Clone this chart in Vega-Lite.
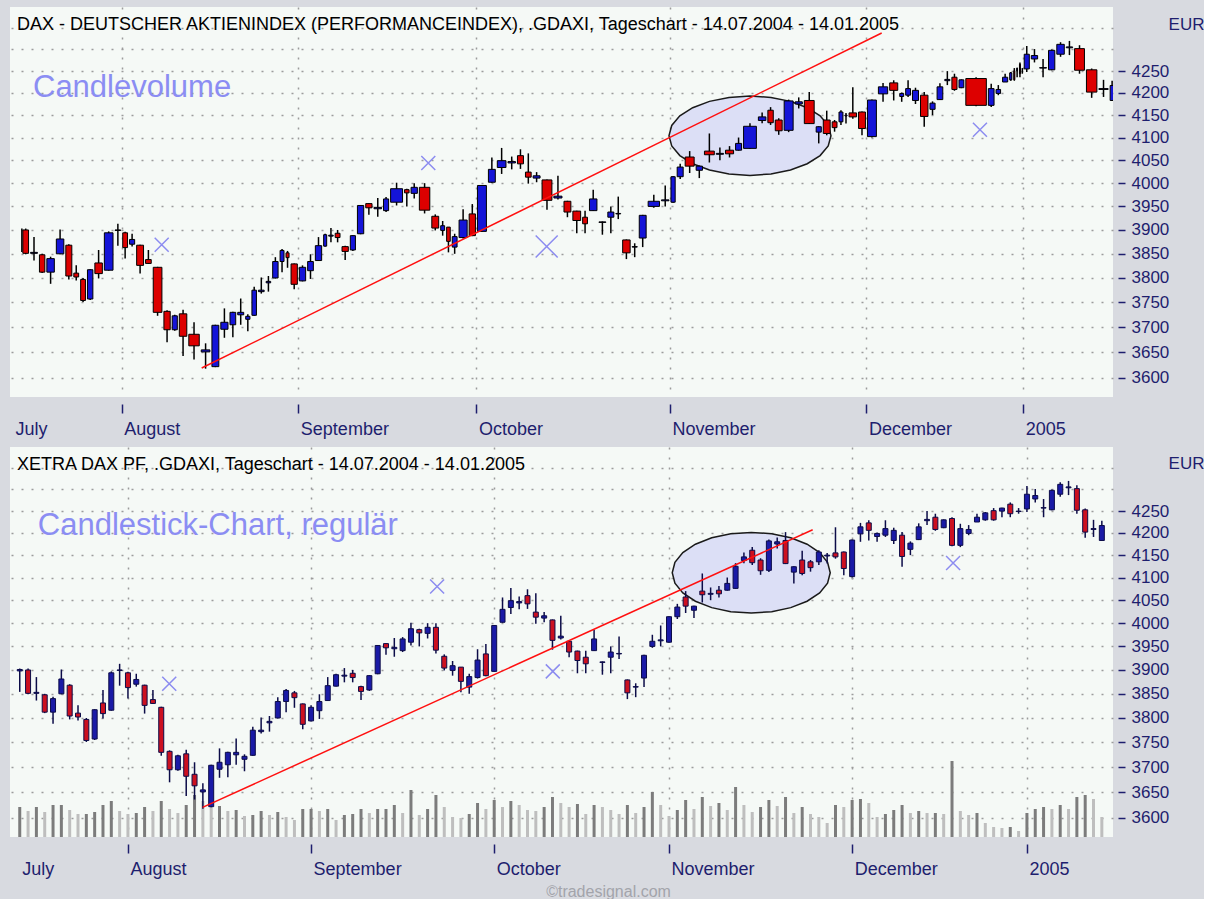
{
"$schema": "https://vega.github.io/schema/vega-lite/v6.json",
"background": "#d8dae0",
"padding": {"left": 10, "top": 7, "right": 0, "bottom": 0},
"autosize": {"type": "pad"},
"config": {
  "view": {"fill": "#f5f9f6", "stroke": null},
  "axis": {"domain": false, "labelFont": "Liberation Sans", "labelColor": "#1e1e6e", "tickColor": "#1e1e6e", "gridColor": "#9c9c9c", "gridDash": [2, 8], "gridWidth": 1.5, "titleFont": "Liberation Sans"}
},
"datasets": {"dax": [
{"i":0,"d":"2004-07-14","o":3898,"h":3903,"l":3854,"c":3901,"v":30},
{"i":1,"d":"2004-07-15","o":3900,"h":3903,"l":3849,"c":3851,"v":26},
{"i":2,"d":"2004-07-16","o":3851,"h":3885,"l":3836,"c":3853,"v":30},
{"i":3,"d":"2004-07-19","o":3848,"h":3850,"l":3810,"c":3812,"v":25},
{"i":4,"d":"2004-07-20","o":3812,"h":3844,"l":3788,"c":3840,"v":32},
{"i":5,"d":"2004-07-21","o":3850,"h":3901,"l":3849,"c":3881,"v":32},
{"i":6,"d":"2004-07-22","o":3868,"h":3870,"l":3797,"c":3804,"v":27},
{"i":7,"d":"2004-07-23","o":3810,"h":3826,"l":3795,"c":3802,"v":23},
{"i":8,"d":"2004-07-26","o":3797,"h":3800,"l":3751,"c":3754,"v":23},
{"i":9,"d":"2004-07-27","o":3757,"h":3818,"l":3755,"c":3817,"v":25},
{"i":10,"d":"2004-07-28","o":3831,"h":3858,"l":3799,"c":3809,"v":32},
{"i":11,"d":"2004-07-29","o":3816,"h":3897,"l":3815,"c":3894,"v":36},
{"i":12,"d":"2004-07-30","o":3899,"h":3913,"l":3867,"c":3900,"v":26},
{"i":13,"d":"2004-08-02","o":3894,"h":3896,"l":3840,"c":3863,"v":23},
{"i":14,"d":"2004-08-03","o":3870,"h":3892,"l":3865,"c":3880,"v":24},
{"i":15,"d":"2004-08-04","o":3868,"h":3869,"l":3809,"c":3826,"v":30},
{"i":16,"d":"2004-08-05","o":3838,"h":3858,"l":3829,"c":3830,"v":26},
{"i":17,"d":"2004-08-06","o":3822,"h":3823,"l":3723,"c":3730,"v":36},
{"i":18,"d":"2004-08-09","o":3732,"h":3734,"l":3670,"c":3695,"v":28},
{"i":19,"d":"2004-08-10","o":3695,"h":3725,"l":3693,"c":3723,"v":24},
{"i":20,"d":"2004-08-11","o":3727,"h":3735,"l":3643,"c":3682,"v":32},
{"i":21,"d":"2004-08-12","o":3686,"h":3710,"l":3636,"c":3663,"v":42},
{"i":22,"d":"2004-08-13","o":3651,"h":3668,"l":3618,"c":3655,"v":36},
{"i":23,"d":"2004-08-16","o":3622,"h":3705,"l":3621,"c":3704,"v":30},
{"i":24,"d":"2004-08-17","o":3696,"h":3738,"l":3679,"c":3710,"v":31},
{"i":25,"d":"2004-08-18","o":3705,"h":3731,"l":3680,"c":3730,"v":26},
{"i":26,"d":"2004-08-19","o":3725,"h":3758,"l":3705,"c":3730,"v":27},
{"i":27,"d":"2004-08-20","o":3716,"h":3726,"l":3692,"c":3722,"v":21},
{"i":28,"d":"2004-08-23","o":3724,"h":3782,"l":3723,"c":3775,"v":22},
{"i":29,"d":"2004-08-24","o":3772,"h":3801,"l":3768,"c":3775,"v":26},
{"i":30,"d":"2004-08-25","o":3790,"h":3804,"l":3772,"c":3793,"v":22},
{"i":31,"d":"2004-08-26","o":3800,"h":3843,"l":3799,"c":3834,"v":25},
{"i":32,"d":"2004-08-27","o":3834,"h":3860,"l":3812,"c":3857,"v":20},
{"i":33,"d":"2004-08-30","o":3852,"h":3856,"l":3821,"c":3842,"v":17},
{"i":34,"d":"2004-08-31","o":3829,"h":3830,"l":3777,"c":3787,"v":28},
{"i":35,"d":"2004-09-01","o":3794,"h":3826,"l":3793,"c":3822,"v":28},
{"i":36,"d":"2004-09-02","o":3815,"h":3849,"l":3798,"c":3834,"v":26},
{"i":37,"d":"2004-09-03","o":3836,"h":3885,"l":3835,"c":3867,"v":28},
{"i":38,"d":"2004-09-06","o":3866,"h":3892,"l":3865,"c":3890,"v":17},
{"i":39,"d":"2004-09-07","o":3887,"h":3904,"l":3874,"c":3889,"v":22},
{"i":40,"d":"2004-09-08","o":3893,"h":3900,"l":3874,"c":3884,"v":23},
{"i":41,"d":"2004-09-09","o":3865,"h":3867,"l":3837,"c":3855,"v":28},
{"i":42,"d":"2004-09-10","o":3858,"h":3889,"l":3856,"c":3888,"v":24},
{"i":43,"d":"2004-09-13","o":3892,"h":3953,"l":3891,"c":3952,"v":28},
{"i":44,"d":"2004-09-14","o":3956,"h":3957,"l":3932,"c":3947,"v":28},
{"i":45,"d":"2004-09-15","o":3945,"h":3968,"l":3928,"c":3948,"v":32},
{"i":46,"d":"2004-09-16","o":3941,"h":3970,"l":3938,"c":3966,"v":24},
{"i":47,"d":"2004-09-17","o":3959,"h":4001,"l":3952,"c":3988,"v":47},
{"i":48,"d":"2004-09-20","o":3986,"h":3988,"l":3950,"c":3979,"v":22},
{"i":49,"d":"2004-09-21","o":3978,"h":4000,"l":3967,"c":3991,"v":28},
{"i":50,"d":"2004-09-22","o":3991,"h":4000,"l":3935,"c":3942,"v":42},
{"i":51,"d":"2004-09-23","o":3929,"h":3933,"l":3899,"c":3904,"v":30},
{"i":52,"d":"2004-09-24","o":3899,"h":3919,"l":3888,"c":3909,"v":20},
{"i":53,"d":"2004-09-27","o":3906,"h":3906,"l":3853,"c":3876,"v":19},
{"i":54,"d":"2004-09-28","o":3864,"h":3892,"l":3850,"c":3886,"v":23},
{"i":55,"d":"2004-09-29","o":3884,"h":3944,"l":3882,"c":3921,"v":34},
{"i":56,"d":"2004-09-30","o":3934,"h":3955,"l":3887,"c":3888,"v":28},
{"i":57,"d":"2004-10-01","o":3897,"h":3996,"l":3896,"c":3995,"v":37},
{"i":58,"d":"2004-10-04","o":4002,"h":4056,"l":4001,"c":4030,"v":30},
{"i":59,"d":"2004-10-05","o":4034,"h":4077,"l":4020,"c":4049,"v":36},
{"i":60,"d":"2004-10-06","o":4044,"h":4058,"l":4030,"c":4047,"v":32},
{"i":61,"d":"2004-10-07","o":4060,"h":4074,"l":4031,"c":4042,"v":27},
{"i":62,"d":"2004-10-08","o":4024,"h":4065,"l":3999,"c":4013,"v":26},
{"i":63,"d":"2004-10-11","o":4011,"h":4024,"l":4002,"c":4016,"v":30},
{"i":64,"d":"2004-10-12","o":4007,"h":4008,"l":3943,"c":3963,"v":40},
{"i":65,"d":"2004-10-13","o":3968,"h":4016,"l":3965,"c":3972,"v":34},
{"i":66,"d":"2004-10-14","o":3961,"h":3962,"l":3927,"c":3938,"v":30},
{"i":67,"d":"2004-10-15","o":3940,"h":3941,"l":3893,"c":3920,"v":33},
{"i":68,"d":"2004-10-18","o":3927,"h":3941,"l":3893,"c":3913,"v":23},
{"i":69,"d":"2004-10-19","o":3941,"h":3986,"l":3940,"c":3966,"v":32},
{"i":70,"d":"2004-10-20","o":3916,"h":3918,"l":3890,"c":3917,"v":30},
{"i":71,"d":"2004-10-21","o":3927,"h":3950,"l":3893,"c":3938,"v":27},
{"i":72,"d":"2004-10-22","o":3934,"h":3971,"l":3923,"c":3935,"v":23},
{"i":73,"d":"2004-10-25","o":3879,"h":3880,"l":3839,"c":3852,"v":32},
{"i":74,"d":"2004-10-26","o":3864,"h":3872,"l":3843,"c":3865,"v":24},
{"i":75,"d":"2004-10-27","o":3883,"h":3932,"l":3864,"c":3931,"v":30},
{"i":76,"d":"2004-10-28","o":3950,"h":3975,"l":3947,"c":3961,"v":45},
{"i":77,"d":"2004-10-29","o":3962,"h":3995,"l":3950,"c":3964,"v":32},
{"i":78,"d":"2004-11-01","o":3959,"h":4015,"l":3958,"c":4014,"v":21},
{"i":79,"d":"2004-11-02","o":4014,"h":4042,"l":4009,"c":4035,"v":27},
{"i":80,"d":"2004-11-03","o":4057,"h":4070,"l":4022,"c":4037,"v":37},
{"i":81,"d":"2004-11-04","o":4028,"h":4038,"l":4011,"c":4037,"v":28},
{"i":82,"d":"2004-11-05","o":4070,"h":4109,"l":4045,"c":4062,"v":40},
{"i":83,"d":"2004-11-08","o":4063,"h":4078,"l":4050,"c":4065,"v":31},
{"i":84,"d":"2004-11-09","o":4072,"h":4081,"l":4056,"c":4064,"v":34},
{"i":85,"d":"2004-11-10","o":4072,"h":4100,"l":4071,"c":4087,"v":27},
{"i":86,"d":"2004-11-11","o":4076,"h":4132,"l":4075,"c":4125,"v":50},
{"i":87,"d":"2004-11-12","o":4138,"h":4156,"l":4132,"c":4146,"v":32},
{"i":88,"d":"2004-11-15","o":4161,"h":4168,"l":4128,"c":4133,"v":25},
{"i":89,"d":"2004-11-16","o":4139,"h":4143,"l":4106,"c":4115,"v":30},
{"i":90,"d":"2004-11-17","o":4116,"h":4185,"l":4112,"c":4182,"v":37},
{"i":91,"d":"2004-11-18","o":4175,"h":4190,"l":4165,"c":4180,"v":31},
{"i":92,"d":"2004-11-19","o":4183,"h":4202,"l":4130,"c":4131,"v":40},
{"i":93,"d":"2004-11-22","o":4112,"h":4125,"l":4087,"c":4124,"v":24},
{"i":94,"d":"2004-11-23","o":4139,"h":4160,"l":4105,"c":4109,"v":30},
{"i":95,"d":"2004-11-24","o":4135,"h":4139,"l":4113,"c":4122,"v":23},
{"i":96,"d":"2004-11-25","o":4135,"h":4161,"l":4128,"c":4157,"v":20},
{"i":97,"d":"2004-11-26","o":4148,"h":4155,"l":4131,"c":4150,"v":14},
{"i":98,"d":"2004-11-29","o":4155,"h":4213,"l":4142,"c":4146,"v":32},
{"i":99,"d":"2004-11-30","o":4157,"h":4158,"l":4105,"c":4120,"v":30},
{"i":100,"d":"2004-12-01","o":4102,"h":4185,"l":4100,"c":4184,"v":37},
{"i":101,"d":"2004-12-02","o":4198,"h":4223,"l":4180,"c":4214,"v":38},
{"i":102,"d":"2004-12-03","o":4223,"h":4229,"l":4183,"c":4206,"v":34},
{"i":103,"d":"2004-12-06","o":4192,"h":4201,"l":4180,"c":4199,"v":20},
{"i":104,"d":"2004-12-07","o":4195,"h":4229,"l":4191,"c":4210,"v":23},
{"i":105,"d":"2004-12-08","o":4183,"h":4212,"l":4175,"c":4206,"v":27},
{"i":106,"d":"2004-12-09","o":4195,"h":4202,"l":4124,"c":4147,"v":32},
{"i":107,"d":"2004-12-10","o":4163,"h":4181,"l":4150,"c":4177,"v":24},
{"i":108,"d":"2004-12-13","o":4185,"h":4222,"l":4184,"c":4214,"v":26},
{"i":109,"d":"2004-12-14","o":4228,"h":4250,"l":4218,"c":4231,"v":24},
{"i":110,"d":"2004-12-15","o":4236,"h":4244,"l":4205,"c":4208,"v":24},
{"i":111,"d":"2004-12-16","o":4212,"h":4231,"l":4211,"c":4230,"v":23},
{"i":112,"d":"2004-12-17","o":4233,"h":4236,"l":4170,"c":4172,"v":76},
{"i":113,"d":"2004-12-20","o":4172,"h":4221,"l":4168,"c":4210,"v":26},
{"i":114,"d":"2004-12-21","o":4199,"h":4218,"l":4195,"c":4208,"v":22},
{"i":115,"d":"2004-12-22","o":4225,"h":4244,"l":4225,"c":4236,"v":24},
{"i":116,"d":"2004-12-23","o":4230,"h":4248,"l":4228,"c":4246,"v":14},
{"i":117,"d":"2004-12-27","o":4251,"h":4257,"l":4228,"c":4230,"v":10},
{"i":118,"d":"2004-12-28","o":4250,"h":4258,"l":4236,"c":4257,"v":9},
{"i":119,"d":"2004-12-29","o":4266,"h":4270,"l":4236,"c":4244,"v":10},
{"i":120,"d":"2004-12-30","o":4249,"h":4257,"l":4244,"c":4250,"v":6},
{"i":121,"d":"2005-01-03","o":4255,"h":4308,"l":4248,"c":4289,"v":24},
{"i":122,"d":"2005-01-04","o":4278,"h":4301,"l":4270,"c":4286,"v":28},
{"i":123,"d":"2005-01-05","o":4257,"h":4278,"l":4236,"c":4258,"v":30},
{"i":124,"d":"2005-01-06","o":4253,"h":4300,"l":4252,"c":4298,"v":28},
{"i":125,"d":"2005-01-07","o":4289,"h":4317,"l":4283,"c":4312,"v":32},
{"i":126,"d":"2005-01-10","o":4304,"h":4320,"l":4287,"c":4306,"v":28},
{"i":127,"d":"2005-01-11","o":4302,"h":4310,"l":4244,"c":4252,"v":40},
{"i":128,"d":"2005-01-12","o":4253,"h":4256,"l":4189,"c":4202,"v":42},
{"i":129,"d":"2005-01-13","o":4208,"h":4230,"l":4191,"c":4210,"v":38},
{"i":130,"d":"2005-01-14","o":4183,"h":4228,"l":4182,"c":4217,"v":20}
]},
"bounds": "flush",
"spacing": 50,
"vconcat": [
{
  "width": 1103, "height": 390,
  "title": {"text": "DAX - DEUTSCHER AKTIENINDEX (PERFORMANCEINDEX), .GDAXI, Tageschart - 14.07.2004 - 14.01.2005", "anchor": "start", "frame": "group", "offset": -41, "baseline": "alphabetic", "dx": 7, "fontSize": 18, "font": "Liberation Sans", "fontWeight": "normal", "color": "#000000"},
  "layer": [
    {"data": {"values": [{"x": 2487, "y": 4104}]},
     "mark": {"type": "point", "shape": "M1,0L0.966,0.127L0.866,0.245L0.707,0.346L0.5,0.424L0.259,0.473L0,0.49L-0.259,0.473L-0.5,0.424L-0.707,0.346L-0.866,0.245L-0.966,0.127L-1,0L-0.966,-0.127L-0.866,-0.245L-0.707,-0.346L-0.5,-0.424L-0.259,-0.473L0,-0.49L0.259,-0.473L0.5,-0.424L0.707,-0.346L0.866,-0.245L0.966,-0.127Z", "size": 26244, "filled": true, "fill": "#dcdff6", "stroke": "#1a1a1a", "strokeWidth": 1.5, "opacity": 1},
     "encoding": {"x": {"field": "x", "type": "quantitative", "scale": {"domain": [-10, 3712]}}, "y": {"field": "y", "type": "quantitative", "scale": {"type": "log", "domain": [3563, 4400]}}}},
    {"data": {"values": [{"x": 501.9, "y": 3869}, {"x": 1401.5, "y": 4043.9}, {"x": 3263, "y": 4117.4}]},
     "mark": {"type": "point", "shape": "M-1,-1L1,1M1,-1L-1,1", "size": 196, "filled": false, "stroke": "#8c8cf0", "strokeWidth": 1.5, "opacity": 1},
     "encoding": {"x": {"field": "x", "type": "quantitative", "scale": {"domain": [-10, 3712]}}, "y": {"field": "y", "type": "quantitative", "scale": {"type": "log", "domain": [3563, 4400]}}}},
    {"data": {"values": [{"x": 1801, "y": 3865.4}]},
     "mark": {"type": "point", "shape": "M-1,-1L1,1M1,-1L-1,1", "size": 484, "filled": false, "stroke": "#8c8cf0", "strokeWidth": 1.5, "opacity": 1},
     "encoding": {"x": {"field": "x", "type": "quantitative", "scale": {"domain": [-10, 3712]}}, "y": {"field": "y", "type": "quantitative", "scale": {"type": "log", "domain": [3563, 4400]}}}},
    {"data": {"values": [{"x": 67.6, "y": 4191.6, "t": "Candlevolume"}]},
     "mark": {"type": "text", "align": "left", "baseline": "alphabetic", "fontSize": 31, "font": "Liberation Sans", "color": "#8b8df3"},
     "encoding": {"x": {"field": "x", "type": "quantitative", "scale": {"domain": [-10, 3712]}}, "y": {"field": "y", "type": "quantitative", "scale": {"type": "log", "domain": [3563, 4400]}}, "text": {"field": "t"}}},
    {"data": {"name": "dax"},
     "transform": [
       {"window": [{"op": "lag", "field": "v", "as": "pv"}, {"op": "sum", "field": "v", "as": "cum"}], "sort": [{"field": "i"}]},
       {"window": [{"op": "sum", "field": "pv", "as": "cp"}], "sort": [{"field": "i"}]},
       {"fold": ["cp", "cum"], "as": ["edge", "pos"]},
       {"aggregate": [{"op": "mean", "field": "pos", "as": "mid"}], "groupby": ["i", "l", "h"]}
     ],
     "mark": {"type": "rule", "color": "#000000", "strokeWidth": 1.5, "clip": true},
     "encoding": {"x": {"field": "mid", "type": "quantitative", "scale": {"domain": [-10, 3712]}}, "y": {"field": "l", "type": "quantitative", "scale": {"type": "log", "domain": [3563, 4400]}}, "y2": {"field": "h"}}},
    {"data": {"name": "dax"},
     "transform": [
       {"window": [{"op": "lag", "field": "v", "as": "pv"}, {"op": "sum", "field": "v", "as": "cum"}], "sort": [{"field": "i"}]},
       {"window": [{"op": "sum", "field": "pv", "as": "cp"}], "sort": [{"field": "i"}]}
     ],
     "mark": {"type": "rect", "stroke": "#000000", "strokeWidth": 1, "xOffset": 1, "x2Offset": -1, "clip": true},
     "encoding": {
       "x": {"field": "cp", "type": "quantitative", "scale": {"domain": [-10, 3712]},
             "axis": {"values": [0, 367, 963, 1564, 2217, 2880, 3409], "labelExpr": "datum.value == 0 ? 'July' : datum.value == 367 ? 'August' : datum.value == 963 ? 'September' : datum.value == 1564 ? 'October' : datum.value == 2217 ? 'November' : datum.value == 2880 ? 'December' : '2005'", "title": null, "offset": 7, "tickSize": 9, "tickWidth": 1.5, "labelAlign": "left", "labelBaseline": "top", "labelPadding": 7, "labelFontSize": 18, "labelOffset": 2, "labelOverlap": false, "labelFlush": false, "labelBound": false, "grid": true, "gridOpacity": {"condition": {"test": "datum.value == 0", "value": 0}, "value": 1}, "tickOpacity": {"condition": {"test": "datum.value == 0", "value": 0}, "value": 1}}},
       "x2": {"field": "cum"},
       "y": {"field": "o", "type": "quantitative", "scale": {"type": "log", "domain": [3563, 4400]},
             "axis": {"orient": "right", "values": [3600, 3650, 3700, 3750, 3800, 3850, 3900, 3950, 4000, 4050, 4100, 4150, 4200, 4250, 4300, 4350], "format": "d", "labelExpr": "datum.value > 4260 ? '' : datum.label", "labelOverlap": false, "offset": 5, "tickSize": 7, "tickWidth": 1.5, "tickOpacity": {"condition": {"test": "datum.value > 4260", "value": 0}, "value": 1}, "labelPadding": 6, "labelFontSize": 17, "grid": true, "title": "EUR", "titleAngle": 0, "titleAlign": "right", "titleBaseline": "alphabetic", "titleX": 86, "titleY": 22, "titleFontSize": 17, "titleFontWeight": "normal", "titleColor": "#1e1e6e"}},
       "y2": {"field": "c"},
       "color": {"condition": {"test": "datum.c >= datum.o", "value": "#1414d8"}, "value": "#dd0000"}
     }},
    {"data": {"values": [{"x": 636.9, "y": 3619.3}, {"x": 2931.5, "y": 4338.5}]},
     "mark": {"type": "line", "color": "#ff1010", "strokeWidth": 1.5},
     "encoding": {"x": {"field": "x", "type": "quantitative", "scale": {"domain": [-10, 3712]}}, "y": {"field": "y", "type": "quantitative", "scale": {"type": "log", "domain": [3563, 4400]}}}}
  ]
},
{
  "width": 1103, "height": 390,
  "title": {"text": "XETRA DAX PF, .GDAXI, Tageschart - 14.07.2004 - 14.01.2005", "anchor": "start", "frame": "group", "offset": -41, "baseline": "alphabetic", "dx": 7, "fontSize": 18, "font": "Liberation Sans", "fontWeight": "normal", "color": "#000000"},
  "resolve": {"scale": {"y": "independent"}},
  "layer": [
    {"data": {"name": "dax"},
     "transform": [{"window": [{"op": "lag", "field": "v", "as": "pv"}], "sort": [{"field": "i"}]}],
     "mark": {"type": "bar", "size": 3},
     "encoding": {
       "x": {"field": "i", "type": "quantitative", "scale": {"domain": [-0.57, 130.74]}},
       "y": {"field": "v", "type": "quantitative", "scale": {"domain": [0, 390]}, "axis": null},
       "color": {"condition": {"test": "datum.pv == null || datum.v >= datum.pv", "value": "#7c7c7c"}, "value": "#bebebe"}
     }},
    {"layer": [
      {"data": {"values": [{"x": 87.88, "y": 4110.7}]},
       "mark": {"type": "point", "shape": "M1,0L0.966,0.132L0.866,0.255L0.707,0.361L0.5,0.442L0.259,0.493L0,0.51L-0.259,0.493L-0.5,0.442L-0.707,0.361L-0.866,0.255L-0.966,0.132L-1,0L-0.966,-0.132L-0.866,-0.255L-0.707,-0.361L-0.5,-0.442L-0.259,-0.493L0,-0.51L0.259,-0.493L0.5,-0.442L0.707,-0.361L0.866,-0.255L0.966,-0.132Z", "size": 24964, "filled": true, "fill": "#dcdff6", "stroke": "#1a1a1a", "strokeWidth": 1.5, "opacity": 1},
       "encoding": {"x": {"field": "x", "type": "quantitative", "scale": {"domain": [-0.57, 130.74]}}, "y": {"field": "y", "type": "quantitative", "scale": {"type": "log", "domain": [3563, 4400]}}}},
      {"data": {"values": [{"x": 17.96, "y": 3871}, {"x": 50.14, "y": 4080.3}, {"x": 64.04, "y": 3897}, {"x": 112.13, "y": 4132.3}]},
       "mark": {"type": "point", "shape": "M-1,-1L1,1M1,-1L-1,1", "size": 196, "filled": false, "stroke": "#8c8cf0", "strokeWidth": 1.5, "opacity": 1},
       "encoding": {"x": {"field": "x", "type": "quantitative", "scale": {"domain": [-0.57, 130.74]}}, "y": {"field": "y", "type": "quantitative", "scale": {"type": "log", "domain": [3563, 4400]}}}},
      {"data": {"values": [{"x": 2.17, "y": 4194.5, "t": "Candlestick-Chart, regulär"}]},
       "mark": {"type": "text", "align": "left", "baseline": "alphabetic", "fontSize": 31, "font": "Liberation Sans", "color": "#8b8df3"},
       "encoding": {"x": {"field": "x", "type": "quantitative", "scale": {"domain": [-0.57, 130.74]}}, "y": {"field": "y", "type": "quantitative", "scale": {"type": "log", "domain": [3563, 4400]}}, "text": {"field": "t"}}},
      {"data": {"name": "dax"},
       "mark": {"type": "rule", "color": "#0c0c48", "strokeWidth": 1.5},
       "encoding": {"x": {"field": "i", "type": "quantitative", "scale": {"domain": [-0.57, 130.74]}}, "y": {"field": "l", "type": "quantitative", "scale": {"type": "log", "domain": [3563, 4400]}}, "y2": {"field": "h"}}},
      {"data": {"name": "dax"},
       "mark": {"type": "bar", "size": 5, "stroke": "#0c0c48", "strokeWidth": 1},
       "encoding": {
         "x": {"field": "i", "type": "quantitative", "scale": {"domain": [-0.57, 130.74]},
               "axis": {"values": [0, 13, 35, 57, 78, 100, 121], "labelExpr": "datum.value == 0 ? 'July' : datum.value == 13 ? 'August' : datum.value == 35 ? 'September' : datum.value == 57 ? 'October' : datum.value == 78 ? 'November' : datum.value == 100 ? 'December' : '2005'", "title": "©tradesignal.com", "titleColor": "#a3a4ab", "titleFontSize": 16, "titleFontWeight": "normal", "titleX": 598, "titleY": 52, "titleBaseline": "alphabetic", "titleAlign": "center", "offset": 7, "tickSize": 9, "tickWidth": 1.5, "labelAlign": "left", "labelBaseline": "top", "labelPadding": 7, "labelFontSize": 18, "labelOffset": 2, "labelOverlap": false, "labelFlush": false, "labelBound": false, "grid": true, "gridOpacity": {"condition": {"test": "datum.value == 0", "value": 0}, "value": 1}, "tickOpacity": {"condition": {"test": "datum.value == 0", "value": 0}, "value": 1}}},
         "y": {"field": "o", "type": "quantitative", "scale": {"type": "log", "domain": [3563, 4400]},
               "axis": {"orient": "right", "values": [3600, 3650, 3700, 3750, 3800, 3850, 3900, 3950, 4000, 4050, 4100, 4150, 4200, 4250, 4300, 4350], "format": "d", "labelExpr": "datum.value > 4260 ? '' : datum.label", "labelOverlap": false, "offset": 5, "tickSize": 7, "tickWidth": 1.5, "tickOpacity": {"condition": {"test": "datum.value > 4260", "value": 0}, "value": 1}, "labelPadding": 6, "labelFontSize": 17, "grid": true, "title": "EUR", "titleAngle": 0, "titleAlign": "right", "titleBaseline": "alphabetic", "titleX": 86, "titleY": 21, "titleFontSize": 17, "titleFontWeight": "normal", "titleColor": "#1e1e6e"}},
         "y2": {"field": "c"},
         "color": {"condition": {"test": "datum.c >= datum.o", "value": "#1a1aa6"}, "value": "#cc1020"}
       }},
      {"data": {"values": [{"x": 21.96, "y": 3620.5}, {"x": 95.26, "y": 4207.4}]},
       "mark": {"type": "line", "color": "#ff1010", "strokeWidth": 1.5},
       "encoding": {"x": {"field": "x", "type": "quantitative", "scale": {"domain": [-0.57, 130.74]}}, "y": {"field": "y", "type": "quantitative", "scale": {"type": "log", "domain": [3563, 4400]}}}}
    ]}
  ]
}
]
}
